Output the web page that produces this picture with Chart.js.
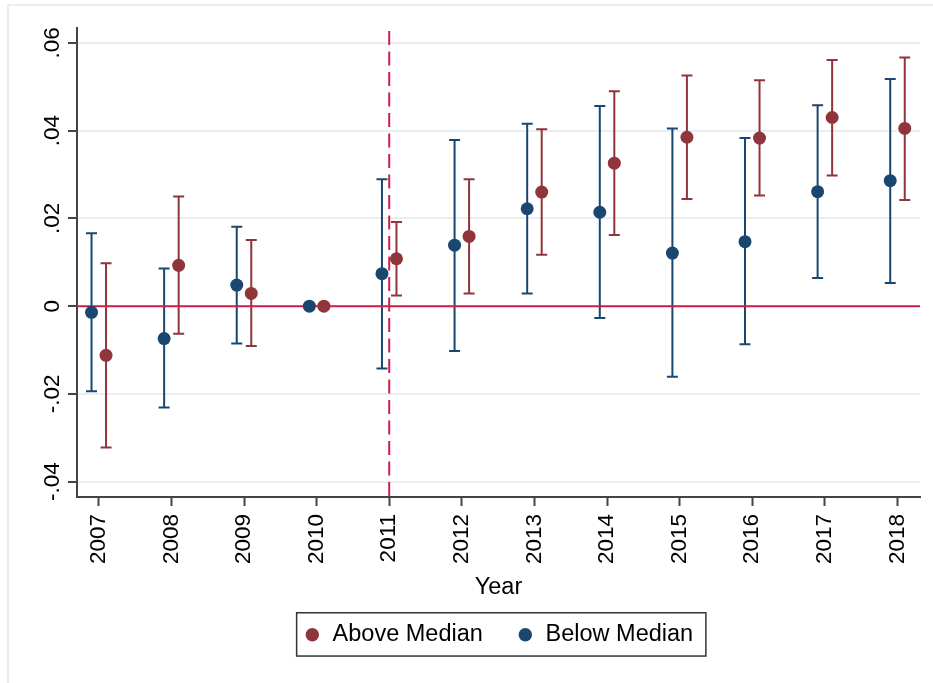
<!DOCTYPE html>
<html>
<head>
<meta charset="utf-8">
<script src="https://cdn.jsdelivr.net/npm/chart.js@4.4.1/dist/chart.umd.min.js"></script>
<style>
  html, body { margin: 0; padding: 0; background: #ffffff; }
  canvas { display: block; }
</style>
</head>
<body>
<canvas id="chart" width="933" height="683"></canvas>
<script>
// Event-study estimates by year, with 95% confidence bounds
const YEARS = [2007, 2008, 2009, 2010, 2011, 2012, 2013, 2014, 2015, 2016, 2017, 2018];
const Y_TICKS = [-0.04, -0.02, 0, 0.02, 0.04, 0.06];

const ABOVE    = [-0.0112, 0.0093, 0.0029, 0, 0.0108, 0.0159, 0.0260, 0.0326, 0.0385, 0.0383, 0.0430, 0.0405];
const ABOVE_LO = [-0.0322, -0.0063, -0.0091, null, 0.0024, 0.0029, 0.0117, 0.0162, 0.0244, 0.0252, 0.0298, 0.0242];
const ABOVE_HI = [0.0098, 0.0250, 0.0151, null, 0.0192, 0.0289, 0.0403, 0.0490, 0.0526, 0.0515, 0.0561, 0.0567];

const BELOW    = [-0.0014, -0.0074, 0.0048, 0, 0.0074, 0.0139, 0.0222, 0.0214, 0.0121, 0.0147, 0.0261, 0.0286];
const BELOW_LO = [-0.0194, -0.0231, -0.0085, null, -0.0142, -0.0102, 0.0029, -0.0027, -0.0161, -0.0087, 0.0064, 0.0053];
const BELOW_HI = [0.0166, 0.0086, 0.0181, null, 0.0289, 0.0379, 0.0416, 0.0456, 0.0405, 0.0383, 0.0458, 0.0518];

const EVENT_YEAR = 2011;
const SHIFT = 0.1;           // horizontal dodge between the two groups
const RED = '#90353B';
const BLUE = '#1A476F';
const REF_LINE = '#CF1C4C';
const FONT = "'Liberation Sans', Arial, sans-serif";

function series(vals, shift) {
  return YEARS.map((yr, i) => ({ x: yr + shift, y: vals[i] }));
}

function fmtY(v) {
  if (Math.abs(v) < 1e-9) return '0';
  return v.toFixed(2).replace(/^(-?)0\./, '$1.');
}

// light outer frame and white background
const framePlugin = {
  id: 'frame',
  beforeDraw(chart) {
    const ctx = chart.ctx;
    ctx.save();
    ctx.fillStyle = '#ffffff';
    ctx.fillRect(0, 0, chart.width, chart.height);
    ctx.strokeStyle = '#E8EEF1';
    ctx.lineWidth = 2;
    ctx.strokeRect(8, 5, chart.width + 20, chart.height + 20);
    ctx.restore();
  }
};

// zero line, event-year dashed line and confidence-interval whiskers
const refAndErrorPlugin = {
  id: 'refAndError',
  beforeDatasetsDraw(chart) {
    const { ctx, chartArea: a, scales: { x, y } } = chart;
    ctx.save();
    ctx.beginPath();
    ctx.rect(a.left, a.top, a.right - a.left, a.bottom - a.top);
    ctx.clip();

    // whiskers
    chart.data.datasets.forEach((ds, di) => {
      if (chart.getDatasetMeta(di).hidden) return;
      ctx.strokeStyle = ds.borderColor;
      ctx.lineWidth = 2;
      ds.data.forEach((p, i) => {
        const lo = ds.lo[i], hi = ds.hi[i];
        if (lo == null || hi == null) return;
        const px = x.getPixelForValue(p.x);
        const y1 = y.getPixelForValue(lo);
        const y2 = y.getPixelForValue(hi);
        ctx.beginPath();
        ctx.moveTo(px, y1); ctx.lineTo(px, y2);
        ctx.moveTo(px - 5.5, y1); ctx.lineTo(px + 5.5, y1);
        ctx.moveTo(px - 5.5, y2); ctx.lineTo(px + 5.5, y2);
        ctx.stroke();
      });
    });

    // horizontal zero line
    ctx.strokeStyle = REF_LINE;
    ctx.lineWidth = 2;
    const y0 = y.getPixelForValue(0);
    ctx.beginPath();
    ctx.moveTo(a.left, y0); ctx.lineTo(a.right, y0);
    ctx.stroke();

    // dashed vertical line at the event year
    const xe = x.getPixelForValue(EVENT_YEAR);
    ctx.setLineDash([14, 6.5]);
    ctx.beginPath();
    ctx.moveTo(xe, a.top + 3); ctx.lineTo(xe, a.bottom);
    ctx.stroke();
    ctx.restore();
  }
};

// box around the legend
const legendBoxPlugin = {
  id: 'legendBox',
  afterDraw(chart) {
    const lg = chart.legend;
    if (!lg || !lg.legendHitBoxes || !lg.legendHitBoxes.length) return;
    const hb = lg.legendHitBoxes;
    const first = hb[0], last = hb[hb.length - 1];
    const cy = first.top + first.height / 2;
    const ctx = chart.ctx;
    ctx.save();
    ctx.strokeStyle = '#333333';
    ctx.lineWidth = 1.5;
    ctx.strokeRect(first.left - 7.2, cy - 22, (last.left + last.width + 12.7) - (first.left - 7.2), 43.3);
    ctx.restore();
  }
};

new Chart(document.getElementById('chart'), {
  type: 'scatter',
  data: {
    datasets: [
      {
        label: 'Above Median',
        data: series(ABOVE, SHIFT),
        lo: ABOVE_LO, hi: ABOVE_HI,
        backgroundColor: RED, borderColor: RED,
        pointRadius: 6.5, pointHoverRadius: 6.5, pointBorderWidth: 0
      },
      {
        label: 'Below Median',
        data: series(BELOW, -SHIFT),
        lo: BELOW_LO, hi: BELOW_HI,
        backgroundColor: BLUE, borderColor: BLUE,
        pointRadius: 6.5, pointHoverRadius: 6.5, pointBorderWidth: 0
      }
    ]
  },
  options: {
    responsive: false,
    devicePixelRatio: 1,
    animation: false,
    layout: { padding: { left: 8, top: 28, right: 13, bottom: 26.5 } },
    plugins: {
      tooltip: { enabled: false },
      legend: {
        position: 'bottom',
        fullSize: false,
        labels: {
          usePointStyle: true,
          pointStyle: 'circle',
          boxWidth: 17,
          boxHeight: 9.5,
          padding: 34,
          color: '#000000',
          font: { family: FONT, size: 23.5 }
        }
      }
    },
    scales: {
      x: {
        type: 'linear',
        min: 2006.7,
        max: 2018.31,
        afterBuildTicks(scale) { scale.ticks = YEARS.map(v => ({ value: v })); },
        afterFit(scale) { scale.height = 92; },
        ticks: {
          autoSkip: false,
          minRotation: 90,
          maxRotation: 90,
          padding: 8,
          color: '#000000',
          font: { family: FONT, size: 22.5 },
          callback: v => String(Math.round(v))
        },
        grid: {
          drawOnChartArea: false,
          drawTicks: true,
          tickLength: 9,
          tickWidth: 2,
          tickColor: '#444444'
        },
        border: { display: true, color: '#444444', width: 2 },
        title: {
          display: true,
          text: 'Year',
          color: '#000000',
          font: { family: FONT, size: 23.5, lineHeight: 1 },
          padding: { top: 0, bottom: -10.25 }
        }
      },
      y: {
        type: 'linear',
        min: -0.0435,
        max: 0.0634,
        afterBuildTicks(scale) { scale.ticks = Y_TICKS.map(v => ({ value: v })); },
        afterFit(scale) { scale.width = 69; },
        ticks: {
          minRotation: 90,
          maxRotation: 90,
          crossAlign: 'center',
          padding: -4,
          color: '#000000',
          font: { family: FONT, size: 22.5 },
          callback: v => fmtY(v)
        },
        grid: {
          color: '#E8EFF2',
          lineWidth: 2,
          drawTicks: true,
          tickLength: 9,
          tickWidth: 2,
          tickColor: '#444444'
        },
        border: { display: true, color: '#444444', width: 2 }
      }
    }
  },
  plugins: [framePlugin, refAndErrorPlugin, legendBoxPlugin]
});
</script>
</body>
</html>
